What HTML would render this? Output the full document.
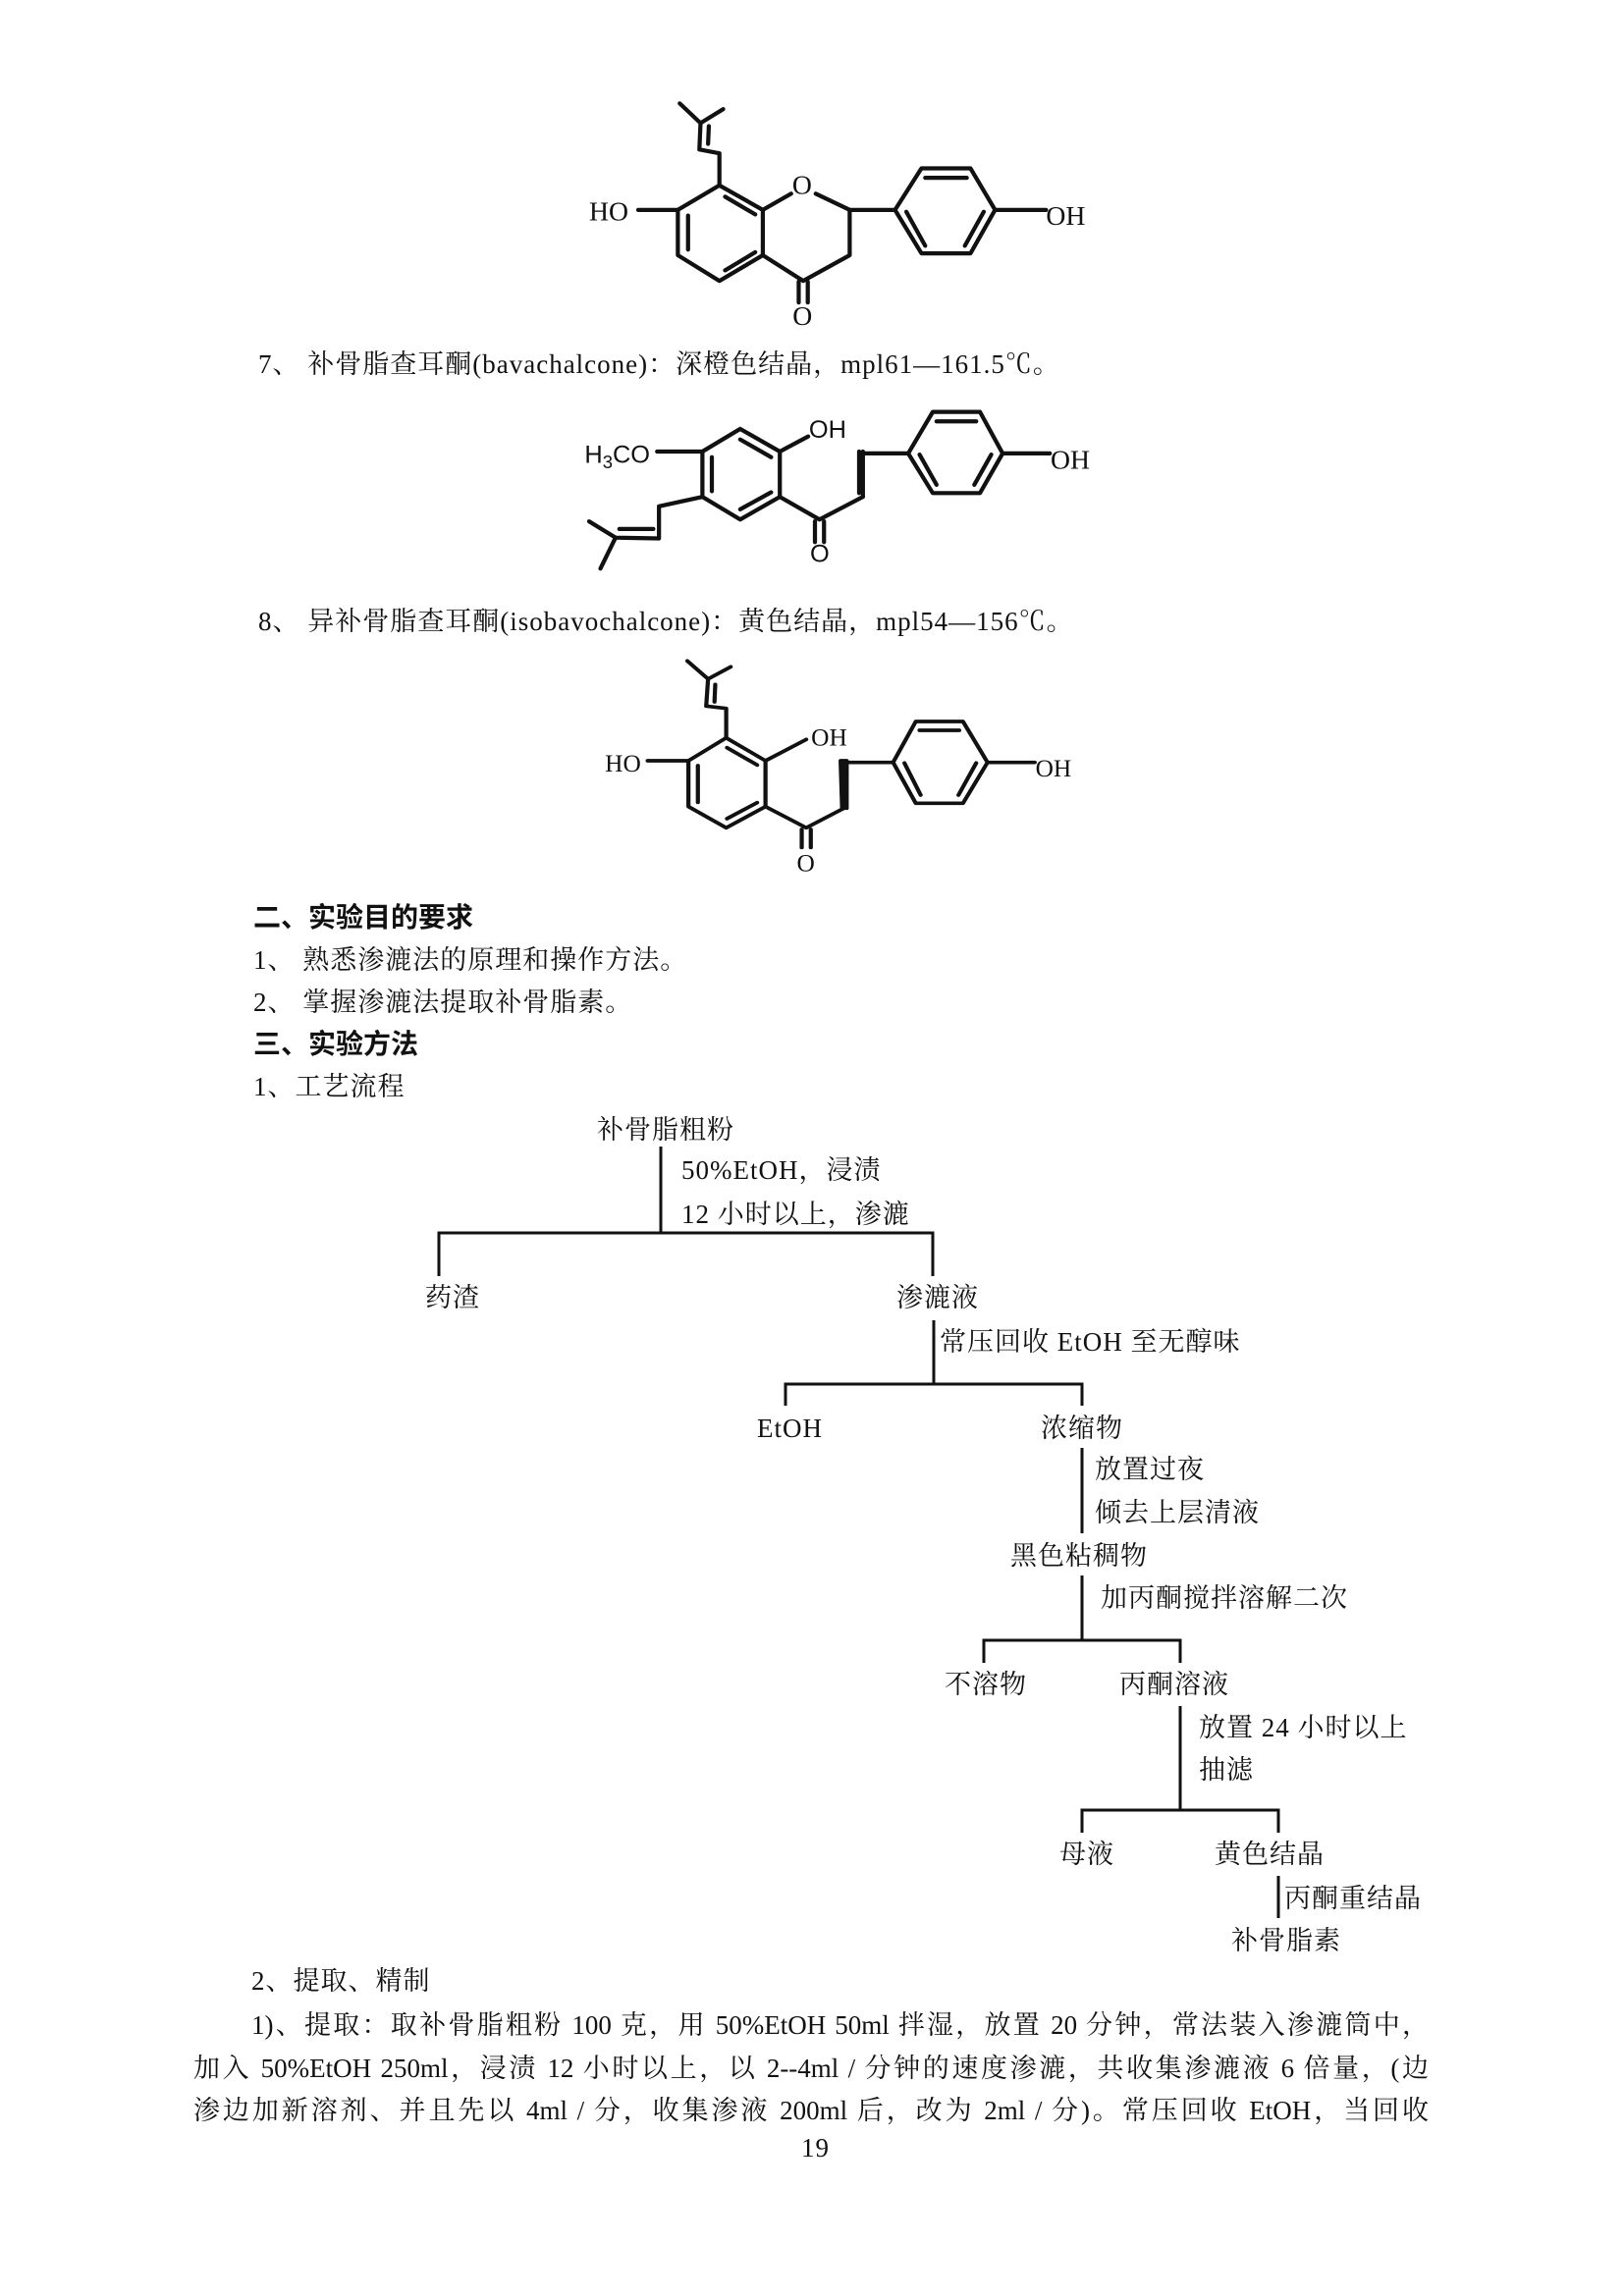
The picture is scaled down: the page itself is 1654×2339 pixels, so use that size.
<!DOCTYPE html>
<html><head><meta charset="utf-8">
<style>
html,body{margin:0;padding:0;background:#fff;}
body{width:1654px;height:2339px;position:relative;overflow:hidden;font-family:"Liberation Serif","Noto Serif CJK SC",serif;color:#111;}
.t{position:absolute;font-size:27px;line-height:32px;white-space:nowrap;letter-spacing:1px;}
.b{font-family:"Liberation Sans","Noto Sans CJK SC",sans-serif;font-weight:bold;font-size:28px;letter-spacing:0;}
.p{position:absolute;left:197px;width:1258px;font-size:27px;line-height:32px;text-align:justify;text-align-last:justify;white-space:nowrap;}
svg{position:absolute;overflow:visible;}
svg text{font-family:"Liberation Serif",serif;fill:#111;}
</style></head><body>

<svg style="left:550px;top:60px;width:600px;height:600px" viewBox="0 0 1560 1560">
<g stroke="#111" stroke-width="11" fill="none" stroke-linecap="round" stroke-linejoin="round">
<polyline points="475,335 590,400 590,520 475,588 365,520 365,400 475,335"/>
<line x1="490" y1="365" x2="570" y2="412"/>
<line x1="392" y1="415" x2="392" y2="505"/>
<line x1="490" y1="560" x2="570" y2="512"/>
<line x1="590" y1="400" x2="665" y2="357"/>
<line x1="730" y1="357" x2="820" y2="400"/>
<polyline points="820,400 820,520 697,588 590,520"/>
<line x1="685" y1="590" x2="685" y2="645"/>
<line x1="709" y1="590" x2="709" y2="645"/>
<line x1="820" y1="400" x2="940" y2="400"/>
<line x1="260" y1="400" x2="365" y2="400"/>
<polyline points="475,335 475,250 422,240 425,170 370,118"/>
<line x1="425" y1="170" x2="485" y2="133"/>
<line x1="445" y1="225" x2="447" y2="178"/>
<polyline points="940,400 1010,290 1140,290 1205,400 1140,515 1010,515 940,400"/>
<line x1="1020" y1="315" x2="1130" y2="315"/>
<line x1="1175" y1="405" x2="1125" y2="495"/>
<line x1="970" y1="405" x2="1020" y2="495"/>
<line x1="1205" y1="400" x2="1340" y2="400"/>
<polyline points="530,980 635,1040 635,1160 530,1220 430,1160 430,1040 530,980"/>
<line x1="530" y1="1008" x2="612" y2="1055"/>
<line x1="612" y1="1148" x2="530" y2="1193"/>
<line x1="455" y1="1055" x2="455" y2="1145"/>
<line x1="310" y1="1040" x2="430" y2="1040"/>
<line x1="635" y1="1040" x2="710" y2="1000"/>
<polyline points="430,1160 315,1185 315,1270 200,1268 130,1225"/>
<line x1="200" y1="1268" x2="160" y2="1350"/>
<line x1="210" y1="1245" x2="300" y2="1245"/>
<polyline points="635,1160 740,1220 855,1160"/>
<line x1="728" y1="1225" x2="728" y2="1280"/>
<line x1="752" y1="1225" x2="752" y2="1280"/>
<line x1="855" y1="1160" x2="855" y2="1040"/>
<line x1="845" y1="1150" x2="845" y2="1040"/>
<line x1="855" y1="1045" x2="975" y2="1045"/>
<polyline points="975,1045 1040,935 1165,935 1225,1045 1165,1150 1040,1150 975,1045"/>
<line x1="1050" y1="960" x2="1155" y2="960"/>
<line x1="1195" y1="1048" x2="1150" y2="1128"/>
<line x1="1005" y1="1048" x2="1050" y2="1128"/>
<line x1="1225" y1="1045" x2="1350" y2="1045"/>
</g>
<text x="130" y="428" font-size="72">HO</text>
<text x="668" y="358" font-size="72">O</text>
<text x="669" y="705" font-size="72">O</text>
<text x="1340" y="440" font-size="72">OH</text>
<text x="118" y="1070" font-size="66" style="font-family:'Liberation Sans',sans-serif">H<tspan font-size="48" dy="14">3</tspan><tspan dy="-14">CO</tspan></text>
<text x="712" y="1003" font-size="66" style="font-family:'Liberation Sans',sans-serif">OH</text>
<text x="715" y="1332" font-size="66" style="font-family:'Liberation Sans',sans-serif">O</text>
<text x="1352" y="1085" font-size="72">OH</text>
</svg>

<svg style="left:550px;top:660px;width:600px;height:260px" viewBox="0 0 1560 780" preserveAspectRatio="none">
<g stroke="#111" stroke-width="11" fill="none" stroke-linecap="round" stroke-linejoin="round">
<polyline points="493,275 597,345 597,485 493,550 393,485 393,345 493,275"/>
<line x1="495" y1="305" x2="575" y2="358"/>
<line x1="418" y1="360" x2="418" y2="472"/>
<line x1="575" y1="473" x2="495" y2="522"/>
<line x1="285" y1="345" x2="393" y2="345"/>
<line x1="597" y1="345" x2="705" y2="280"/>
<polyline points="493,275 493,185 440,178 445,95 390,40"/>
<line x1="445" y1="95" x2="505" y2="58"/>
<line x1="462" y1="165" x2="464" y2="112"/>
<polyline points="597,485 705,550 805,490"/>
<line x1="693" y1="555" x2="693" y2="610"/>
<line x1="717" y1="555" x2="717" y2="610"/>
<polygon points="800,490 812,490 812,345 796,345" fill="#111"/>
<line x1="805" y1="350" x2="935" y2="350"/>
<polyline points="935,350 995,225 1120,225 1185,350 1120,475 995,475 935,350"/>
<line x1="1005" y1="252" x2="1110" y2="252"/>
<line x1="1155" y1="352" x2="1108" y2="450"/>
<line x1="965" y1="352" x2="1008" y2="450"/>
<line x1="1185" y1="350" x2="1310" y2="350"/>
</g>
<g font-size="66">
<text transform="translate(172,378) scale(1,1.15)">HO</text>
<text transform="translate(718,298) scale(1,1.15)">OH</text>
<text transform="translate(680,683) scale(1,1.15)">O</text>
<text transform="translate(1312,393) scale(1,1.15)">OH</text>
</g>
</svg>

<div class="t" style="left:263px;top:355px;">7、 补骨脂查耳酮(bavachalcone)：深橙色结晶，mpl61—161.5℃。</div>
<div class="t" style="left:263px;top:617px;">8、 异补骨脂查耳酮(isobavochalcone)：黄色结晶，mpl54—156℃。</div>

<div class="t b" style="left:258px;top:919px;">二、实验目的要求</div>
<div class="t" style="left:258px;top:962px;">1、 熟悉渗漉法的原理和操作方法。</div>
<div class="t" style="left:258px;top:1005px;">2、 掌握渗漉法提取补骨脂素。</div>
<div class="t b" style="left:258px;top:1048px;">三、实验方法</div>
<div class="t" style="left:258px;top:1091px;">1、工艺流程</div>

<svg style="left:0;top:0;width:1654px;height:2339px" viewBox="0 0 1654 2339">
<g stroke="#111" stroke-width="3" fill="none">
<line x1="673" y1="1168" x2="673" y2="1256"/>
<polyline points="447,1300 447,1256 950,1256 950,1300"/>
<line x1="951" y1="1345" x2="951" y2="1410"/>
<polyline points="800,1432 800,1410 1102,1410 1102,1432"/>
<line x1="1102" y1="1475" x2="1102" y2="1562"/>
<line x1="1102" y1="1605" x2="1102" y2="1671"/>
<polyline points="1002,1694 1002,1671 1202,1671 1202,1694"/>
<line x1="1202" y1="1738" x2="1202" y2="1844"/>
<polyline points="1102,1867 1102,1844 1302,1844 1302,1867"/>
<line x1="1302" y1="1911" x2="1302" y2="1954"/>
</g>
</svg>

<div class="t" style="left:608px;top:1135px;">补骨脂粗粉</div>
<div class="t" style="left:694px;top:1176px;">50%EtOH，浸渍</div>
<div class="t" style="left:694px;top:1221px;">12 小时以上，渗漉</div>
<div class="t" style="left:433px;top:1306px;">药渣</div>
<div class="t" style="left:913px;top:1306px;">渗漉液</div>
<div class="t" style="left:957px;top:1351px;">常压回收 EtOH 至无醇味</div>
<div class="t" style="left:771px;top:1439px;">EtOH</div>
<div class="t" style="left:1060px;top:1439px;">浓缩物</div>
<div class="t" style="left:1115px;top:1481px;">放置过夜</div>
<div class="t" style="left:1115px;top:1525px;">倾去上层清液</div>
<div class="t" style="left:1029px;top:1569px;">黑色粘稠物</div>
<div class="t" style="left:1121px;top:1612px;">加丙酮搅拌溶解二次</div>
<div class="t" style="left:962px;top:1700px;">不溶物</div>
<div class="t" style="left:1140px;top:1700px;">丙酮溶液</div>
<div class="t" style="left:1221px;top:1744px;">放置 24 小时以上</div>
<div class="t" style="left:1221px;top:1787px;">抽滤</div>
<div class="t" style="left:1079px;top:1873px;">母液</div>
<div class="t" style="left:1237px;top:1873px;">黄色结晶</div>
<div class="t" style="left:1308px;top:1918px;">丙酮重结晶</div>
<div class="t" style="left:1254px;top:1961px;">补骨脂素</div>

<div class="t" style="left:256px;top:2002px;">2、提取、精制</div>
<div class="p" style="left:256px;width:1199px;top:2047px;">1)、提取：取补骨脂粗粉 100 克，用 50%EtOH 50ml 拌湿，放置 20 分钟，常法装入渗漉筒中，</div>
<div class="p" style="top:2091px;">加入 50%EtOH 250ml，浸渍 12 小时以上，以 2--4ml / 分钟的速度渗漉，共收集渗漉液 6 倍量，(边</div>
<div class="p" style="top:2134px;">渗边加新溶剂、并且先以 4ml / 分，收集渗液 200ml 后，改为 2ml / 分)。常压回收 EtOH，当回收</div>
<div class="t" style="left:816px;top:2172px;">19</div>
</body></html>
